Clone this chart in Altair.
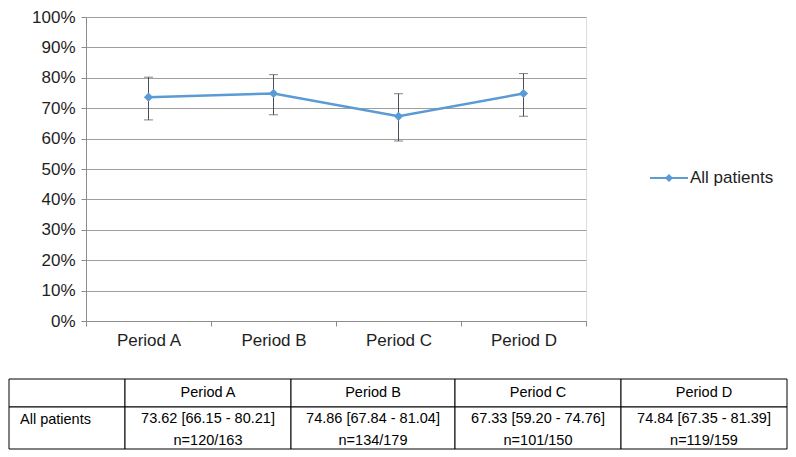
import altair as alt
import pandas as pd

# ---------------- data ----------------
periods = ["Period A", "Period B", "Period C", "Period D"]
means = [73.62, 74.86, 67.33, 74.84]
lower = [66.15, 67.84, 59.20, 67.35]
upper = [80.21, 81.04, 74.76, 81.39]
counts = ["n=120/163", "n=134/179", "n=101/150", "n=119/159"]
series_name = "All patients"
y_ticks = list(range(0, 101, 10))

# ---------------- layout / style ----------------
FONT = "Liberation Sans"
BLUE = "#5B9BD5"
ERR = "#4A4F5A"
GRID = "#9E9E9E"
AXIS = "#8C8C8C"
TXT = "#1E1E1E"
PLOT_W, PLOT_H = 500, 304
col_edges = [0, 116, 282, 446, 612, 778]   # table column borders (px units)
row_edges = [0, 28, 70]                    # table row borders (px units)
TABLE_X_RANGE = [-77, 701]
TABLE_Y_RANGE = [362, 432]

df = pd.DataFrame({"period": periods, "value": means, "lo": lower,
                   "hi": upper, "series": series_name})

x_enc = alt.X("period:N", sort=periods,
              scale=alt.Scale(type="band", paddingInner=0, paddingOuter=0),
              axis=alt.Axis(title=None, labelAngle=0, tickBand="extent",
                            domainColor=AXIS, tickColor=AXIS, tickSize=5,
                            labelFontSize=17, labelFont=FONT, labelColor=TXT,
                            labelPadding=6, grid=False))
y_scale = alt.Scale(domain=[0, 100], nice=False)
y_axis = alt.Axis(title=None, values=y_ticks, labelExpr="datum.value + '%'",
                  domainColor=AXIS, tickColor=AXIS, tickSize=5,
                  gridColor=GRID, grid=True, labelFontSize=17, labelFont=FONT,
                  labelColor=TXT, labelPadding=6)

base = alt.Chart(df)
err_rule = base.mark_rule(color=ERR, strokeWidth=1).encode(
    x=x_enc, y=alt.Y("lo:Q", scale=y_scale, axis=y_axis), y2="hi:Q")
cap_lo = base.mark_tick(color=ERR, size=9, thickness=1).encode(
    x=x_enc, y=alt.Y("lo:Q", scale=y_scale, axis=y_axis))
cap_hi = base.mark_tick(color=ERR, size=9, thickness=1).encode(
    x=x_enc, y=alt.Y("hi:Q", scale=y_scale, axis=y_axis))
line = base.mark_line(color=BLUE, strokeWidth=2.5).encode(
    x=x_enc, y=alt.Y("value:Q", scale=y_scale, axis=y_axis))
pts = base.mark_point(shape="diamond", filled=True, size=85, opacity=1).encode(
    x=x_enc, y=alt.Y("value:Q", scale=y_scale, axis=y_axis),
    color=alt.Color("series:N", scale=alt.Scale(range=[BLUE]),
                    legend=alt.Legend(
                        title=None, orient="none", legendX=563, legendY=141,
                        symbolType="M-1,0H1M0,-0.14L0.14,0L0,0.14L-0.14,0Z",
                        symbolSize=1444, symbolStrokeWidth=2,
                        symbolStrokeColor=BLUE, symbolFillColor=BLUE,
                        labelFontSize=17, labelFont=FONT, labelColor=TXT,
                        labelOffset=1, padding=0)))

plot = alt.layer(err_rule, cap_lo, cap_hi, line, pts)

# ---------------- table ----------------
cells = []
for r in range(len(row_edges) - 1):
    for c in range(len(col_edges) - 1):
        cells.append({"cx": col_edges[c], "cx2": col_edges[c + 1],
                      "cy": row_edges[r], "cy2": row_edges[r + 1]})
cells = pd.DataFrame(cells)

hdr_y = (row_edges[0] + row_edges[1]) / 2
line1_y = row_edges[1] + 12
line2_y = row_edges[1] + 34
center_texts = []
for i, p in enumerate(periods):
    xc = (col_edges[i + 1] + col_edges[i + 2]) / 2
    center_texts.append({"tx": xc, "ty": hdr_y, "label": p})
    center_texts.append({"tx": xc, "ty": line1_y,
                         "label": f"{means[i]:.2f} [{lower[i]:.2f} - {upper[i]:.2f}]"})
    center_texts.append({"tx": xc, "ty": line2_y, "label": counts[i]})
center_texts = pd.DataFrame(center_texts)
left_texts = pd.DataFrame([{"tx": col_edges[0] + 11, "ty": row_edges[1] + 13,
                            "label": series_name}])

tx_scale = alt.Scale(domain=[col_edges[0], col_edges[-1]], range=TABLE_X_RANGE)
ty_scale = alt.Scale(domain=[row_edges[0], row_edges[-1]], range=TABLE_Y_RANGE)

rects = alt.Chart(cells).mark_rect(fill="white", stroke="#000", strokeWidth=1).encode(
    x=alt.X("cx:Q", scale=tx_scale, axis=None), x2="cx2:Q",
    y=alt.Y("cy:Q", scale=ty_scale, axis=None), y2="cy2:Q")
ctext = alt.Chart(center_texts).mark_text(
    fontSize=14.5, font=FONT, color="#000", align="center", baseline="middle").encode(
    x=alt.X("tx:Q", scale=tx_scale, axis=None),
    y=alt.Y("ty:Q", scale=ty_scale, axis=None), text="label:N")
ltext = alt.Chart(left_texts).mark_text(
    fontSize=14.5, font=FONT, color="#000", align="left", baseline="middle").encode(
    x=alt.X("tx:Q", scale=tx_scale, axis=None),
    y=alt.Y("ty:Q", scale=ty_scale, axis=None), text="label:N")

table = alt.layer(rects, ctext, ltext)

chart = alt.layer(plot, table).resolve_scale(
    x="independent", y="independent"
).properties(width=PLOT_W, height=PLOT_H, padding=0).configure_view(
    stroke=None).configure(font=FONT)

chart.save("out.html", embed_options={"renderer": "svg", "actions": False})
